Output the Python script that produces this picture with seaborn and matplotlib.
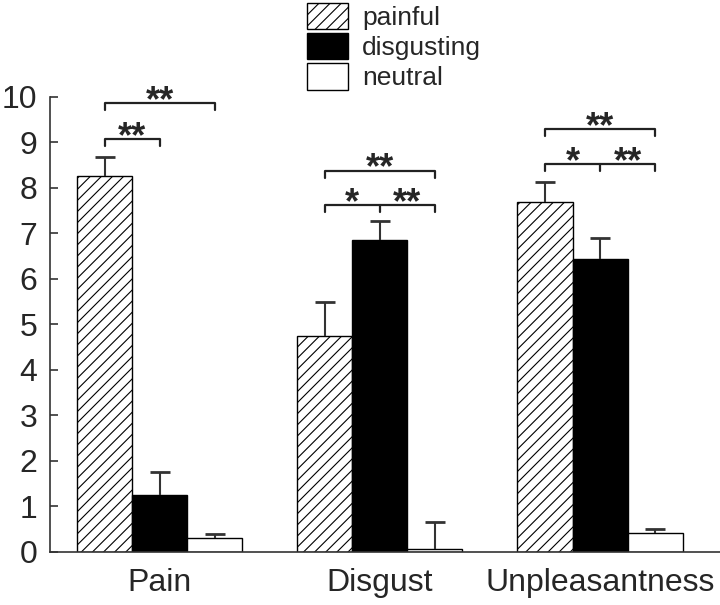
import numpy as np
import pandas as pd
import seaborn as sns
import matplotlib.pyplot as plt
from matplotlib.patches import Patch

# values
categories = ["Pain", "Disgust", "Unpleasantness"]
conditions = ["painful", "disgusting", "neutral"]
painful_mean = [8.27, 4.75, 7.68]
disgusting_mean = [1.24, 6.85, 6.43]
neutral_mean = [0.30, 0.06, 0.42]
painful_err = [0.40, 0.75, 0.45]
disgusting_err = [0.52, 0.42, 0.46]
neutral_err = [0.09, 0.60, 0.07]

means = [painful_mean, disgusting_mean, neutral_mean]
errs = [painful_err, disgusting_err, neutral_err]

df = pd.DataFrame({
    "category": np.tile(categories, len(conditions)),
    "condition": np.repeat(conditions, len(categories)),
    "score": np.concatenate(means),
    "err": np.concatenate(errs),
})

sns.set_style("ticks")
plt.rcParams["font.family"] = ["Liberation Sans", "DejaVu Sans"]
plt.rcParams["hatch.linewidth"] = 0.8
plt.rcParams["hatch.color"] = "#333333"

fig = plt.figure(figsize=(7.2, 6.05), dpi=100)
ax = fig.add_axes([0.069, 0.088, 0.931, 0.752])

face = {"painful": "white", "disgusting": "black", "neutral": "white"}
hatch = {"painful": "///", "disgusting": "", "neutral": ""}

sns.barplot(data=df, x="category", y="score", hue="condition",
            order=categories, hue_order=conditions, palette=face,
            width=0.75, gap=0, errorbar=None, edgecolor="black",
            linewidth=1.0, legend=False, ax=ax)

# hatches + one-sided (upper) error bars
centers = {}
for cond, cont in zip(conditions, ax.containers):
    for cat, bar in zip(categories, cont):
        bar.set_hatch(hatch[cond])
        x = bar.get_x() + bar.get_width() / 2
        h = bar.get_height()
        centers[(cat, cond)] = x
        e = df[(df.category == cat) & (df.condition == cond)]["err"].iloc[0]
        _, caps, _ = ax.errorbar(x, h, yerr=[[0], [e]], color="#333333",
                                 elinewidth=1.5, capsize=7, capthick=2,
                                 fmt="none", zorder=1)
        for c in caps:
            if c.get_ydata()[0] <= h + 1e-9:
                c.set_visible(False)

ax.set_ylim(0, 10)
ax.set_xlim(-0.5, 2.545)
ax.set_yticks(range(0, 11))
ax.tick_params(axis="y", labelsize=23, length=6, width=1.2, color="#333333",
               direction="in", pad=9)
ax.tick_params(axis="x", labelsize=23, length=0, pad=12)
ax.set_xlabel("")
ax.set_ylabel("")
sns.despine(ax=ax)
for s in ["left", "bottom"]:
    ax.spines[s].set_linewidth(1.2)
    ax.spines[s].set_color("#333333")


def bracket(x1, x2, y, mid=None, drop=0.16):
    ax.plot([x1, x1, x2, x2], [y - drop, y, y, y - drop], color="#222222",
            lw=1.6, clip_on=False)
    if mid is not None:
        ax.plot([mid, mid], [y, y - drop], color="#222222", lw=1.6, clip_on=False)


def stars(x, y, label):
    ax.text(x, y + 0.03, label, ha="center", va="center", fontsize=26,
            fontweight="bold", clip_on=False)


pa = {c: centers[(c, "painful")] for c in categories}
di = {c: centers[(c, "disgusting")] for c in categories}
ne = {c: centers[(c, "neutral")] for c in categories}

# Pain
bracket(pa["Pain"], di["Pain"], 9.07)
stars((pa["Pain"] + di["Pain"]) / 2, 9.07, "**")
bracket(pa["Pain"], ne["Pain"], 9.86)
stars((pa["Pain"] + ne["Pain"]) / 2, 9.86, "**")

# Disgust
bracket(pa["Disgust"], ne["Disgust"], 7.62, mid=di["Disgust"])
stars((pa["Disgust"] + di["Disgust"]) / 2, 7.62, "*")
stars((di["Disgust"] + ne["Disgust"]) / 2, 7.62, "**")
bracket(pa["Disgust"], ne["Disgust"], 8.38)
stars((pa["Disgust"] + ne["Disgust"]) / 2, 8.38, "**")

# Unpleasantness
u = "Unpleasantness"
bracket(pa[u], ne[u], 8.52, mid=di[u])
stars((pa[u] + di[u]) / 2, 8.52, "*")
stars((di[u] + ne[u]) / 2, 8.52, "**")
bracket(pa[u], ne[u], 9.3)
stars((pa[u] + ne[u]) / 2, 9.3, "**")

handles = [Patch(facecolor=face[c], edgecolor="black", hatch=hatch[c],
                 linewidth=1.0, label=c) for c in conditions]
fig.legend(handles=handles, loc="upper left", bbox_to_anchor=(0.426, 0.995),
           frameon=False, fontsize=19, handlelength=1.55, handleheight=1.15,
           labelspacing=0.12, handletextpad=0.55, borderaxespad=0, borderpad=0)

fig.savefig("out.png", dpi=100)
